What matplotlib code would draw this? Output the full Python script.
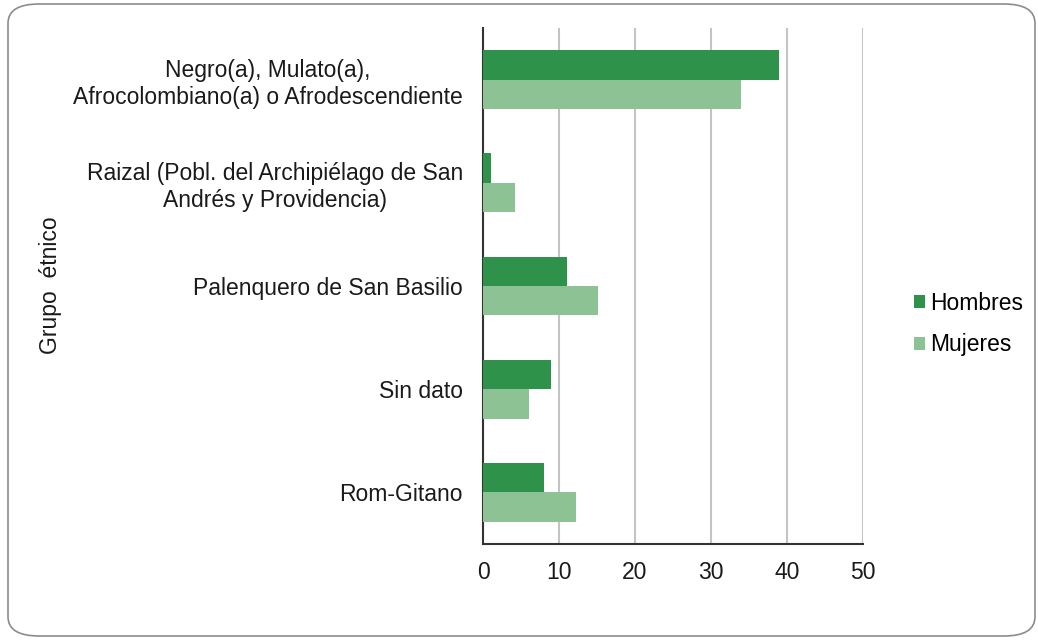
import matplotlib
matplotlib.use("Agg")
import matplotlib.pyplot as plt
from matplotlib.patches import FancyBboxPatch
import numpy as np

categories = [
    "Negro(a), Mulato(a),\nAfrocolombiano(a) o Afrodescendiente",
    "Raizal (Pobl. del Archipiélago de San\nAndrés y Providencia)",
    "Palenquero de San Basilio",
    "Sin dato",
    "Rom-Gitano",
]
hombres = [39, 1, 11, 9, 8]
mujeres = [34, 4.2, 15.1, 6, 12.2]
x_ticks = [0, 10, 20, 30, 40, 50]

c_h = "#2E924A"
c_m = "#8DC295"

plt.rcParams['font.family'] = ['Liberation Sans', 'DejaVu Sans']
FS = 16.5

fig = plt.figure(figsize=(10.38, 6.41), dpi=100)
W, H = 1038, 641
ax = fig.add_axes([483 / W, 1 - 544 / H, 380 / W, 516 / H])

# rounded outer frame
frame = FancyBboxPatch((8 / W, 5 / H), 1027 / W, 632 / H,
                       boxstyle="round,pad=0,rounding_size=0.03",
                       transform=fig.transFigure, facecolor="white",
                       edgecolor="#8c8c8c", linewidth=1.2, zorder=-10)
fig.patches.append(frame)

y = np.arange(len(categories))
bh = 0.285
ax.barh(y - bh / 2, hombres, height=bh, color=c_h, label="Hombres", zorder=3)
ax.barh(y + bh / 2, mujeres, height=bh, color=c_m, label="Mujeres", zorder=3)

ax.set_ylim(len(categories) - 0.5, -0.5)
ax.set_xlim(0, 50)
ax.set_xticks(x_ticks)
ax.set_yticks(y)
ax.set_yticklabels(categories, multialignment="center", fontsize=FS, color="#1a1a1a")
ax.tick_params(axis="y", length=0, pad=14.4)
ax.tick_params(axis="x", length=0, pad=12, labelsize=FS, labelcolor="#1a1a1a")

ax.grid(axis="x", color="#c4c4c4", linewidth=1.5, zorder=0)
ax.set_axisbelow(True)
for s in ["top", "right"]:
    ax.spines[s].set_visible(False)
ax.spines["left"].set_color("#333333")
ax.spines["bottom"].set_color("#333333")
ax.spines["left"].set_linewidth(1.5)
ax.spines["bottom"].set_linewidth(1.5)

fig.text(51 / W, 1 - 285 / H, "Grupo  étnico", rotation=90, ha="center",
         va="center", fontsize=FS, color="#1a1a1a")

leg = fig.legend(loc="center left", bbox_to_anchor=(893 / W, 1 - 324 / H),
                 frameon=False, fontsize=FS, handlelength=0.5, handleheight=0.5,
                 handletextpad=0.2, labelspacing=0.8)

fig.savefig("out.png", dpi=100)
